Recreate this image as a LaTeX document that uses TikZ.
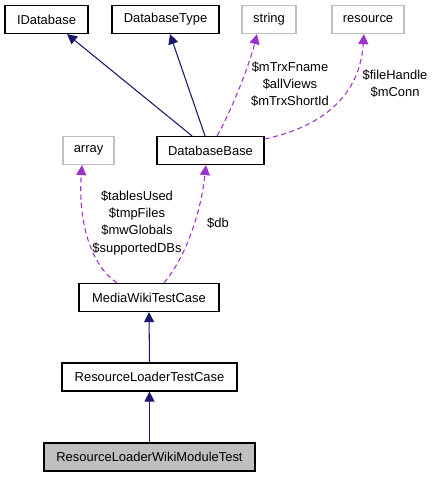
\documentclass[tikz,border=0pt]{standalone}
\usepackage{fontspec}
\setmainfont{Liberation Sans}
\usetikzlibrary{arrows.meta,calc}
\definecolor{navyedge}{HTML}{191970}
\definecolor{memberedge}{HTML}{9A32CD}
\definecolor{extgray}{HTML}{BFBFBF}
\tikzset{
  cls/.style={draw=black,line width=0.9pt,minimum height=21pt,inner sep=0pt,font=\fontsize{9.7}{11.5}\selectfont},
  extcls/.style={cls,draw=extgray},
  inherit/.style={navyedge,line width=0.8pt,-{Triangle[length=7.5pt,width=7.5pt]}},
  member/.style={memberedge,line width=0.8pt,dash pattern=on 3.8pt off 2.6pt,-{Triangle[length=7.5pt,width=7.5pt]}},
  lbl/.style={align=center,inner sep=0pt,font=\fontsize{9.7}{12.8}\selectfont}
}
\begin{document}
\begin{tikzpicture}[x=0.75pt,y=-0.75pt]
  \useasboundingbox (0,0) rectangle (436,477);
  % top row
  \node[cls,minimum width=62.25pt] (idb) at (46.5,19.5) {IDatabase};
  \node[cls,minimum width=80.25pt] (dbtype) at (165.5,19.5) {DatabaseType};
  \node[extcls,minimum width=40.5pt] (string) at (269,19.5) {string};
  \node[extcls,minimum width=54pt] (resource) at (368,19.5) {resource};
  % middle row
  \node[extcls,minimum width=38.25pt] (array) at (88.5,150.5) {array};
  \node[cls,minimum width=80.25pt] (dbbase) at (210.5,150.5) {DatabaseBase};
  % class chain
  \node[cls,minimum width=105pt] (mwtc) at (149,297.5) {MediaWikiTestCase};
  \node[cls,minimum width=131.25pt] (rltc) at (149.5,377) {ResourceLoaderTestCase};
  \node[cls,fill=extgray,minimum width=158.25pt] (rlwmt) at (149.5,457) {ResourceLoaderWikiModuleTest};
  % inheritance
  \draw[inherit] ($(dbbase.north)+(-18.5,0)$) -- ($(idb.south)+(20.5,0)$);
  \draw[inherit] ($(dbbase.north)+(-5.5,0)$) -- ($(dbtype.south)+(4.5,0)$);
  \draw[inherit] (rltc.north) -- (mwtc.south);
  \draw[inherit] (rlwmt.north) -- (rltc.south);
  % members
  \draw[member] ($(dbbase.north)+(6.5,0)$) .. controls (233,108) and (250,62) .. ($(string.south)+(-12,0)$);
  \draw[member] ($(dbbase.east)+(0,-11.5)$) .. controls (330,125) and (360,90) .. ($(resource.south)+(-4,0)$);
  \draw[member] ($(mwtc.north)+(-32,0)$) .. controls (90,265) and (78,220) .. ($(array.south)+(-6.5,0)$);
  \draw[member] ($(mwtc.north)+(15,0)$) .. controls (182,262) and (200,220) .. ($(dbbase.south)+(-4.5,0)$);
  % labels
  \node[lbl] (lblstring) at (290,84) {\$mTrxFname\\\$allViews\\\$mTrxShortId};
  \node[lbl] (lblres) at (395,84) {\$fileHandle\\\$mConn};
  \node[lbl] (lblarray) at (137,223) {\$tablesUsed\\\$tmpFiles\\\$mwGlobals\\\$supportedDBs};
  \node[lbl] (lbldb) at (218,223) {\$db};
\end{tikzpicture}
\end{document}
